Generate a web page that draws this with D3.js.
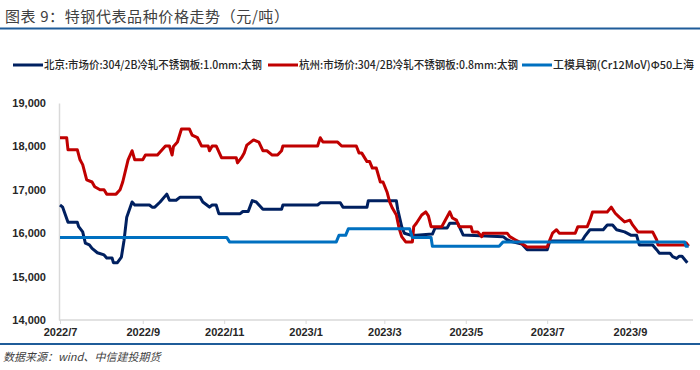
<!DOCTYPE html>
<html><head><meta charset="utf-8">
<script src="https://cdn.jsdelivr.net/npm/d3@7"></script>
<style>
body{margin:0;background:#fff;}
svg{display:block;}
</style></head>
<body>
<svg id="chart" width="700" height="370"></svg>
<script>
const titleText = "图表 9：特钢代表品种价格走势（元/吨）";
const sourceText = "数据来源：wind、中信建投期货";
const seriesNames = ["北京:市场价:304/2B冷轧不锈钢板:1.0mm:太钢", "杭州:市场价:304/2B冷轧不锈钢板:0.8mm:太钢", "工模具钢(Cr12MoV)Φ50上海"];
const seriesColors = ["#002060", "#C00000", "#0070C0"];
const yTicks = [14000, 15000, 16000, 17000, 18000, 19000];
const xTickDates = ["2022-07-01","2022-09-01","2022-11-01","2023-01-01","2023-03-01","2023-05-01","2023-07-01","2023-09-01"];

const beijingDates = ["2022-07-01","2022-07-03","2022-07-07","2022-07-14","2022-07-15","2022-07-18","2022-07-20","2022-07-23","2022-07-25","2022-07-29","2022-08-03","2022-08-05","2022-08-09","2022-08-10","2022-08-13","2022-08-16","2022-08-18","2022-08-20","2022-08-24","2022-08-26","2022-09-06","2022-09-08","2022-09-10","2022-09-14","2022-09-19","2022-09-21","2022-09-26","2022-09-29","2022-10-14","2022-10-16","2022-10-19","2022-10-21","2022-10-23","2022-10-26","2022-10-28","2022-11-13","2022-11-15","2022-11-19","2022-11-22","2022-11-25","2022-11-30","2022-12-14","2022-12-15","2023-01-10","2023-01-12","2023-01-27","2023-01-29","2023-02-16","2023-02-17","2023-03-10","2023-03-11","2023-03-14","2023-03-16","2023-03-20","2023-03-25","2023-04-06","2023-04-08","2023-04-17","2023-04-19","2023-04-25","2023-04-29","2023-05-29","2023-06-01","2023-06-05","2023-06-12","2023-06-16","2023-07-01","2023-07-03","2023-07-27","2023-07-29","2023-08-02","2023-08-12","2023-08-15","2023-08-19","2023-08-22","2023-08-28","2023-09-02","2023-09-06","2023-09-08","2023-09-18","2023-09-21","2023-09-23","2023-10-01","2023-10-03","2023-10-06","2023-10-08","2023-10-10","2023-10-14"];
const beijingValues = [16650,16600,16250,16250,16150,16030,15770,15730,15650,15550,15500,15430,15430,15320,15320,15450,15840,16370,16720,16650,16650,16600,16600,16720,16900,16760,16760,16830,16830,16720,16650,16600,16650,16650,16450,16450,16500,16500,16750,16720,16550,16550,16650,16650,16700,16700,16600,16600,16750,16750,16550,16150,16000,15960,15950,15980,16120,16120,16230,16230,15960,15920,15850,15800,15750,15620,15620,15820,15820,15920,16080,16080,16190,16190,16080,16030,15950,15950,15730,15730,15620,15540,15540,15460,15420,15470,15470,15320];

const hangzhouDates = ["2022-07-01","2022-07-06","2022-07-07","2022-07-14","2022-07-16","2022-07-18","2022-07-21","2022-07-25","2022-07-27","2022-07-31","2022-08-03","2022-08-05","2022-08-12","2022-08-15","2022-08-17","2022-08-21","2022-08-24","2022-08-26","2022-09-01","2022-09-03","2022-09-12","2022-09-18","2022-09-21","2022-09-23","2022-09-24","2022-09-27","2022-09-30","2022-10-06","2022-10-08","2022-10-12","2022-10-15","2022-10-20","2022-10-21","2022-10-23","2022-10-26","2022-10-30","2022-11-10","2022-11-11","2022-11-14","2022-11-16","2022-11-18","2022-11-23","2022-11-27","2022-11-30","2022-12-03","2022-12-07","2022-12-11","2022-12-14","2022-12-15","2023-01-10","2023-01-12","2023-01-14","2023-01-25","2023-01-28","2023-02-08","2023-02-10","2023-02-12","2023-02-16","2023-02-18","2023-02-20","2023-02-23","2023-02-26","2023-02-28","2023-03-03","2023-03-05","2023-03-07","2023-03-10","2023-03-12","2023-03-14","2023-03-17","2023-03-22","2023-03-23","2023-03-25","2023-03-29","2023-04-01","2023-04-03","2023-04-05","2023-04-13","2023-04-19","2023-04-21","2023-04-24","2023-04-26","2023-05-05","2023-05-06","2023-05-10","2023-05-13","2023-05-14","2023-06-01","2023-06-03","2023-06-07","2023-06-10","2023-06-16","2023-07-01","2023-07-03","2023-07-05","2023-07-08","2023-07-10","2023-07-22","2023-07-24","2023-07-31","2023-08-02","2023-08-04","2023-08-15","2023-08-18","2023-08-21","2023-08-24","2023-08-28","2023-09-01","2023-09-03","2023-09-07","2023-09-18","2023-09-21","2023-09-22","2023-10-12","2023-10-13","2023-10-15"];
const hangzhouValues = [18200,18200,17920,17920,17690,17580,17230,17180,17070,17000,17000,16900,16900,17000,17180,17690,17900,17690,17690,17800,17800,18010,18010,17800,18000,18100,18400,18400,18260,18200,18010,18010,17900,18010,18010,17740,17740,17620,17740,17850,18030,18150,18100,17900,17900,17800,17800,17900,18010,18010,18200,18100,18100,18010,18010,17850,17850,17650,17650,17500,17500,17180,17180,16950,16720,16580,16420,16120,15920,15800,15800,16150,16230,16420,16490,16400,16150,16150,16490,16350,16300,16150,16150,16030,16030,15920,16000,16000,15920,15850,15800,15680,15680,15850,16000,16080,16000,16000,16150,16150,16300,16490,16490,16600,16460,16370,16260,16300,16190,16030,16030,15850,15730,15730,15780,15700];

const toolDates = ["2022-07-01","2022-11-03","2022-11-05","2023-01-24","2023-01-26","2023-01-31","2023-02-02","2023-03-20","2023-03-22","2023-04-05","2023-04-06","2023-05-26","2023-05-29","2023-10-12","2023-10-13","2023-10-15"];
const toolValues = [15900,15900,15800,15800,15950,15950,16100,16100,15900,15900,15700,15700,15800,15800,15700,15700];

const parse = d3.timeParse("%Y-%m-%d");
const svg = d3.select("#chart");

const x = d3.scaleTime().domain([parse("2022-07-01"), parse("2023-10-16")]).range([60, 690]);
const y = d3.scaleLinear().domain([14000, 19000]).range([320, 103]);

// title
svg.append("text").attr("x", 5).attr("y", 22)
  .attr("font-family", "'Noto Sans CJK SC', sans-serif").attr("font-size", 15)
  .attr("fill", "#404040").attr("letter-spacing", 0.6).text(titleText);
svg.append("line").attr("x1", 0).attr("x2", 700).attr("y1", 28.5).attr("y2", 28.5)
  .attr("stroke", "#1f5c99").attr("stroke-width", 2);

// legend
const legendX = [13, 268, 522];
const legendW = [218, 219, 141];
seriesNames.forEach((n, i) => {
  svg.append("line").attr("x1", legendX[i]).attr("x2", legendX[i] + 30)
    .attr("y1", 65).attr("y2", 65).attr("stroke", seriesColors[i]).attr("stroke-width", 3);
  svg.append("text").attr("x", legendX[i] + 31).attr("y", 65).attr("dy", "0.36em")
    .attr("font-family", "'Noto Sans CJK SC', sans-serif").attr("font-size", 11).attr("font-weight", 500)
    .attr("fill", "#262626").attr("textLength", legendW[i]).attr("lengthAdjust", "spacingAndGlyphs")
    .text(n);
});

// axes
const yAxis = svg.append("g").attr("transform", "translate(59,0)")
  .call(d3.axisLeft(y).tickValues(yTicks).tickSize(0).tickPadding(13).tickFormat(d3.format(",")));
yAxis.select(".domain").attr("stroke", "#d9d9d9").attr("stroke-width", 1.5);
yAxis.selectAll("text").attr("font-family", "'Liberation Sans', Arial, sans-serif")
  .attr("font-size", 11).attr("font-weight", "bold").attr("fill", "#262626");

const xAxis = svg.append("g").attr("transform", "translate(0,320)")
  .call(d3.axisBottom(x).tickValues(xTickDates.map(parse)).tickSize(4).tickPadding(4)
    .tickFormat(d3.timeFormat("%Y/%-m")));
xAxis.select(".domain").attr("stroke", "#d9d9d9").attr("stroke-width", 1.5)
  .attr("d", "M59,0H693");
xAxis.selectAll(".tick line").attr("stroke", "#d9d9d9");
xAxis.selectAll("text").attr("font-family", "'Liberation Sans', Arial, sans-serif")
  .attr("font-size", 11).attr("font-weight", "bold").attr("fill", "#262626");

// series
const seriesData = [
  beijingDates.map((d, i) => ({date: parse(d), value: beijingValues[i]})),
  hangzhouDates.map((d, i) => ({date: parse(d), value: hangzhouValues[i]})),
  toolDates.map((d, i) => ({date: parse(d), value: toolValues[i]}))
];
const line = d3.line().x(d => x(d.date)).y(d => y(d.value));
seriesData.forEach((s, i) => {
  svg.append("path").datum(s).attr("d", line).attr("fill", "none")
    .attr("stroke", seriesColors[i]).attr("stroke-width", 3)
    .attr("stroke-linejoin", "round").attr("stroke-linecap", "butt");
});

// bottom rule and source
svg.append("line").attr("x1", 0).attr("x2", 700).attr("y1", 344).attr("y2", 344)
  .attr("stroke", "#1f5c99").attr("stroke-width", 2);
svg.append("text").attr("x", 3).attr("y", 361)
  .attr("font-family", "'Noto Sans CJK SC', sans-serif").attr("font-size", 11)
  .attr("font-style", "italic").attr("fill", "#404040").text(sourceText);
</script>
</body></html>
